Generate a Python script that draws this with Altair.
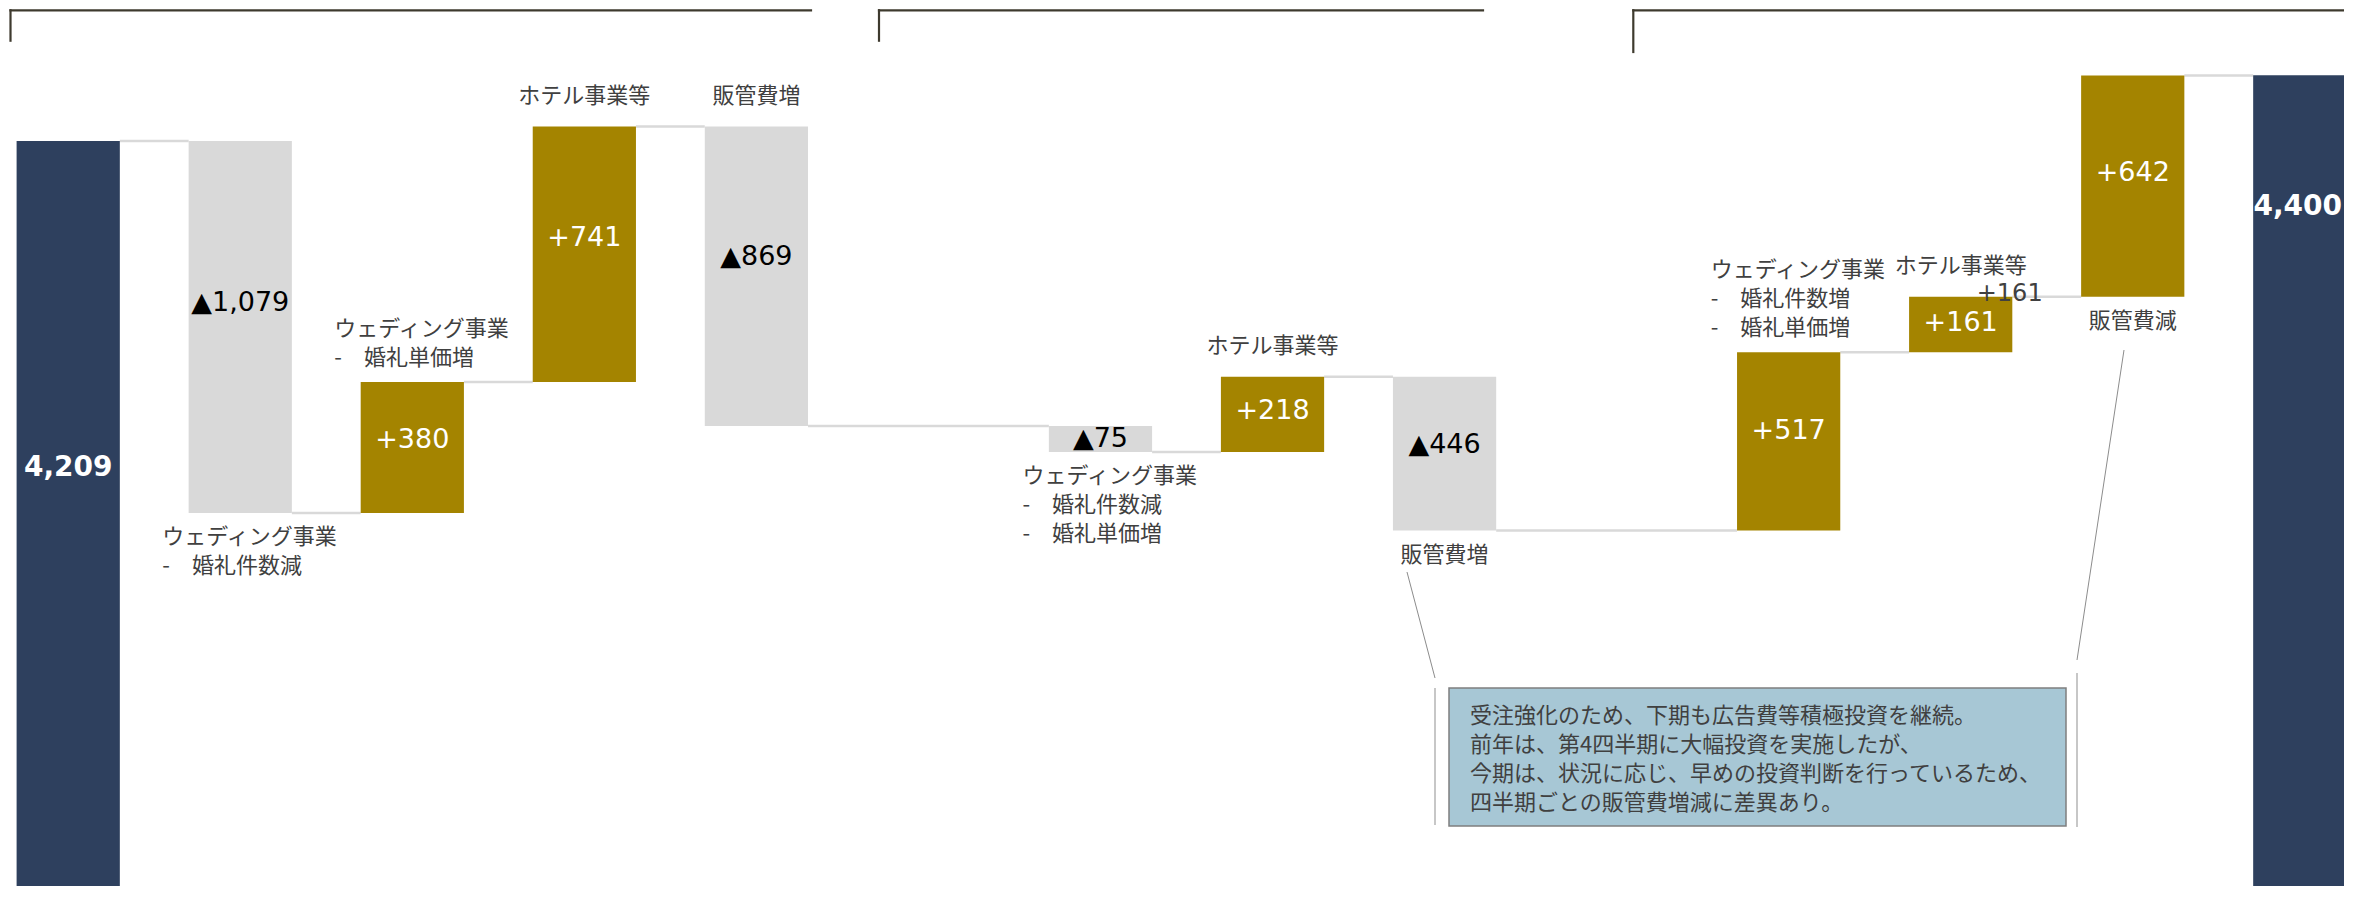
import altair as alt
import pandas as pd

# ---------------- data ----------------
start_value = 4209
end_value = 4400
step_quarters = ["Q1", "Q1", "Q1", "Q1", "Q2", "Q2", "Q2", "Q3", "Q3", "Q3"]
step_labels = [
    "ウェディング事業\n-　婚礼件数減",
    "ウェディング事業\n-　婚礼単価増",
    "ホテル事業等",
    "販管費増",
    "ウェディング事業\n-　婚礼件数減\n-　婚礼単価増",
    "ホテル事業等",
    "販管費増",
    "ウェディング事業\n-　婚礼件数増\n-　婚礼単価増",
    "ホテル事業等",
    "販管費減",
]
step_deltas = [-1079, 380, 741, -869, -75, 218, -446, 517, 161, 642]
callout_lines = [
    "受注強化のため、下期も広告費等積極投資を継続。",
    "前年は、第4四半期に大幅投資を実施したが、",
    "今期は、状況に応じ、早めの投資判断を行っているため、",
    "四半期ごとの販管費増減に差異あり。",
]

# ---------------- layout (not data) ----------------
label_side = ["below", "above", "above", "above", "below", "above", "below", "above", "above", "below"]
NAVY = "#2E405E"
GOLD = "#A48400"
GRAY = "#D9D9D9"
TXT = "#404040"
JP = "Noto Sans CJK JP"
NUM = "DejaVu Sans, Noto Sans CJK JP"
LH = 29
W, H = 2336, 878

# ---------------- build table ----------------
rows = [dict(id="start", kind="total", y0=0, y1=start_value,
             value_text=f"{start_value:,}", label="", side="")]
slot_domain = ["start"]
running = start_value
prev_q = step_quarters[0]
for i, (q, lab, d, side) in enumerate(zip(step_quarters, step_labels, step_deltas, label_side)):
    if q != prev_q:
        slot_domain.append(f"sep_{q}")
        prev_q = q
    sid = f"{q}_{i}"
    slot_domain.append(sid)
    new = running + d
    rows.append(dict(id=sid, kind="up" if d > 0 else "down", y0=running, y1=new,
                     value_text=(f"+{d:,}" if d > 0 else f"▲{abs(d):,}"),
                     label=lab, side=side))
    running = new
slot_domain.append("end")
rows.append(dict(id="end", kind="total", y0=0, y1=end_value,
                 value_text=f"{end_value:,}", label="", side=""))
for k in range(len(rows)):
    if k < len(rows) - 1:
        rows[k]["next_id"] = rows[k + 1]["id"]
        rows[k]["level"] = rows[k]["y1"]
    else:
        rows[k]["next_id"] = None
        rows[k]["level"] = None
df = pd.DataFrame(rows)
df["top"] = df[["y0", "y1"]].max(axis=1)
df["bottom"] = df[["y0", "y1"]].min(axis=1)
df["nlines"] = df["label"].apply(lambda s: s.count("\n") + 1 if s else 0)

# the last total bar runs past the right edge of the picture, as in the original slide
xscale = alt.Scale(domain=slot_domain, range=[0, 2357], paddingInner=0.4, paddingOuter=0.05)
yscale = alt.Scale(domain=[2047.7, 4594.85], nice=False, zero=False)


def X(**kw):
    return alt.X("id:N", scale=xscale, axis=None, **kw)


def Y(f):
    return alt.Y(f, scale=yscale, axis=None)


base = alt.Chart(df)

connectors = base.transform_filter("isValid(datum.next_id)").mark_rule(
    color=GRAY, strokeWidth=2.5
).encode(x=X(bandPosition=1), x2=alt.X2("next_id", bandPosition=0), y=Y("level:Q"))

bars = base.mark_bar(clip=True).encode(
    x=X(), y=Y("y0:Q"), y2="y1:Q",
    color=alt.Color("kind:N", scale=alt.Scale(domain=["total", "up", "down"],
                                              range=[NAVY, GOLD, GRAY]), legend=None),
)

value_labels = base.transform_filter("datum.kind != 'total'").transform_calculate(
    anchor="datum.top - 0.43 * (datum.top - datum.bottom)"
).mark_text(font=NUM, fontSize=27, baseline="middle", dy=2).encode(
    x=X(), y=Y("anchor:Q"), text="value_text:N",
    color=alt.when(alt.datum.kind == "up").then(alt.value("white")).otherwise(alt.value("black")),
)

start_label = base.transform_filter("datum.id == 'start'").mark_text(
    font=NUM, fontSize=28, fontWeight="bold", color="white", baseline="middle", dy=327
).encode(x=X(), y=Y("y1:Q"), text="value_text:N")
end_label = base.transform_filter("datum.id == 'end'").mark_text(
    font=NUM, fontSize=28, fontWeight="bold", color="white", baseline="middle", dy=132, dx=-7
).encode(x=X(), y=Y("y1:Q"), text="value_text:N")

stray_label = base.transform_filter("datum.id == 'Q3_8'").mark_text(
    font=NUM, fontSize=24, color=TXT, baseline="alphabetic", dx=49, dy=4
).encode(x=X(), y=Y("top:Q"), text="value_text:N")


def cat_layer(side, n):
    filt = f"datum.side == '{side}' && datum.nlines == {n}"
    multi = n > 1
    if side == "above":
        dy = -19 - LH * (n - 1) + (7 if multi else 0)
    else:
        dy = 14
    props = dict(font=JP, fontSize=22, color=TXT, lineBreak="\n", lineHeight=LH,
                 align="left" if multi else "center",
                 baseline="bottom" if side == "above" else "top", dy=dy)
    if multi:
        props["dx"] = -78
    return base.transform_filter(filt).mark_text(**props).encode(
        x=X(), y=Y("top:Q" if side == "above" else "bottom:Q"), text="label:N")


line_counts = sorted(set(df.loc[df["nlines"] > 0, "nlines"]))
cat_labels = [cat_layer(s, n) for s in ["above", "below"] for n in line_counts]

one = alt.Data(values=[{}])


def seg(x1, y1, x2, y2, color, width, cap="butt"):
    return alt.Chart(one).mark_rule(color=color, strokeWidth=width, strokeCap=cap).encode(
        x=alt.value(x1), x2=alt.value(x2), y=alt.value(y1), y2=alt.value(y2))


BR = "#3E3A2E"
brackets = [
    seg(2.5, 2.3, 803, 2.3, BR, 2.2, "square"), seg(2.5, 2.3, 2.5, 32.7, BR, 2.2, "square"),
    seg(871, 2.3, 1475, 2.3, BR, 2.2, "square"), seg(871, 2.3, 871, 32.7, BR, 2.2, "square"),
    seg(1625.3, 2.3, W + 10, 2.3, BR, 2.2, "square"), seg(1625.3, 2.3, 1625.3, 44, BR, 2.2, "square"),
]
leaders = [
    seg(1399, 564, 1427, 670, "#8C8C8C", 1),
    seg(1427, 680, 1427, 817, "#B4B4B4", 1.5),
    seg(2116, 342, 2069, 652, "#8C8C8C", 1),
    seg(2069, 665, 2069, 819, "#B4B4B4", 1.5),
]
box = alt.Chart(one).mark_rect(fill="#A7C7D5", stroke="#7F7F7F", strokeWidth=1.5).encode(
    x=alt.value(1441), x2=alt.value(2058), y=alt.value(680), y2=alt.value(818))
box_text = alt.Chart(alt.Data(values=[{"t": "\n".join(callout_lines)}])).mark_text(
    font=JP, fontSize=22, color=TXT, align="left", baseline="top", lineBreak="\n", lineHeight=LH
).encode(x=alt.value(1462), y=alt.value(698), text="t:N")

chart = alt.layer(
    connectors, bars, value_labels, start_label, end_label, stray_label,
    *cat_labels, *brackets, *leaders, box, box_text
).properties(
    width=W, height=H, padding=0, autosize=alt.AutoSizeParams(type="none")
).configure_view(stroke=None)

chart.save("out.html", embed_options={"renderer": "svg", "actions": False})
